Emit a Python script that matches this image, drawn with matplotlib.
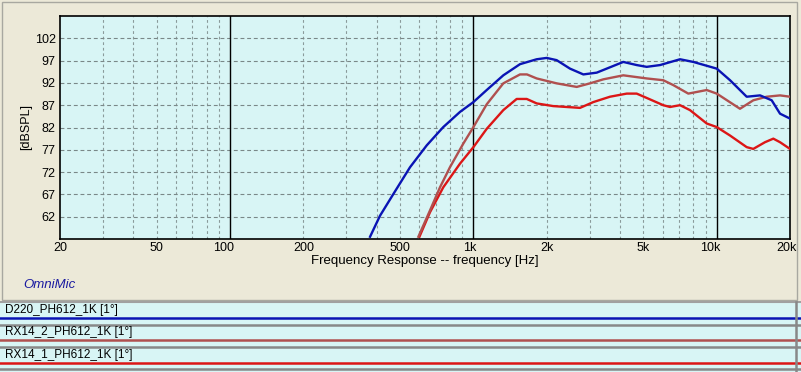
import matplotlib
matplotlib.use("Agg")
import matplotlib.pyplot as plt
import matplotlib.transforms as mtrans
from matplotlib.patches import Rectangle
from matplotlib.ticker import FixedLocator, NullFormatter

# ---------------- data ----------------
series_names = ["D220_PH612_1K [1°]", "RX14_2_PH612_1K [1°]", "RX14_1_PH612_1K [1°]"]
series_colors = ["#0A14B4", "#B0504F", "#DC1616"]

d220_freq = [376, 413, 469, 549, 643, 752, 881, 1000, 1134, 1327, 1554, 1820, 2000, 2198,
             2494, 2830, 3212, 3641, 4130, 4688, 5154, 5848, 7064, 8012, 10000,
             11340, 13274, 15070, 16820, 18200, 20000]
d220_db = [57.5, 62.2, 67.1, 73.1, 78.0, 82.1, 85.5, 87.7, 90.4, 93.7, 96.2, 97.3, 97.6, 97.1,
           95.2, 93.9, 94.3, 95.5, 96.7, 96.0, 95.6, 96.0, 97.3, 96.7, 95.2,
           92.6, 88.9, 89.2, 88.1, 85.1, 84.0]

rx2_freq = [594, 663, 729, 801, 909, 1000, 1134, 1327, 1554, 1660, 1820, 2198, 2658, 3014,
            3420, 4130, 5154, 6028, 6632, 7640, 9092, 10000, 12460, 14130, 16040, 18200, 20000]
rx2_db = [57.5, 63.4, 68.6, 73.1, 78.4, 82.1, 87.2, 91.9, 93.9, 93.9, 93.0, 91.9, 91.1, 91.9,
          92.8, 93.7, 93.0, 92.6, 91.5, 89.6, 90.4, 89.6, 86.2, 88.1, 88.9, 89.2, 88.9]

rx1_freq = [600, 663, 752, 881, 1000, 1134, 1327, 1506, 1656, 1820, 2128, 2742, 3110,
            3641, 4266, 4688, 5320, 6028, 6426, 7064, 7761, 9092, 10000, 11340, 13274,
            14130, 15780, 17080, 18200, 20000]
rx1_db = [57.5, 63.0, 68.6, 73.9, 77.6, 81.7, 85.9, 88.4, 88.4, 87.4, 86.8, 86.4, 87.7,
          88.9, 89.6, 89.6, 88.3, 87.0, 86.6, 87.0, 85.9, 82.9, 82.1, 80.2, 77.6,
          77.2, 78.7, 79.5, 78.7, 77.2]

x_ticks = [20, 50, 100, 200, 500, 1000, 2000, 5000, 10000, 20000]
x_tick_labels = ["20", "50", "100", "200", "500", "1k", "2k", "5k", "10k", "20k"]
y_ticks = [62, 67, 72, 77, 82, 87, 92, 97, 102]
decade_lines = [100, 1000, 10000]
minor_grid = [30, 40, 50, 60, 70, 80, 90, 200, 300, 400, 500, 600, 700, 800, 900,
              2000, 3000, 4000, 5000, 6000, 7000, 8000, 9000]

# ---------------- figure ----------------
W, H = 801, 372
fig = plt.figure(figsize=(W / 100, H / 100), dpi=100)
fig.patch.set_facecolor("#ECE9D8")
plt.rcParams["font.family"] = ["Liberation Sans", "DejaVu Sans"]

def fx(px):
    return px / W

def fy(py):
    return 1 - py / H

# upper panel border
fig.patches.append(Rectangle((fx(2), fy(300)), fx(797) - fx(2), fy(2) - fy(300),
                             transform=fig.transFigure, fill=False,
                             edgecolor="#A8A8A0", lw=1))

L, R, T, B = 60, 790, 16, 239
ax = fig.add_axes([fx(L), fy(B), fx(R) - fx(L), fy(T) - fy(B)])
ax.set_facecolor("#D8F5F5")
ax.set_xscale("log")
ax.set_xlim(20, 20000)
ax.set_ylim(57, 107)

for f in minor_grid:
    ax.axvline(f, color="#8A9A9A", lw=0.8, ls=(0, (2.5, 2.5)), zorder=1)
for y in y_ticks:
    ax.axhline(y, color="#7A8888", lw=0.8, ls=(0, (3.5, 2.5)), zorder=1)
for f in decade_lines:
    ax.axvline(f, color="black", lw=1.0, zorder=2)

ax.plot(d220_freq, d220_db, color=series_colors[0], lw=1.7, zorder=5)
ax.plot(rx2_freq, rx2_db, color=series_colors[1], lw=1.7, zorder=4)
ax.plot(rx1_freq, rx1_db, color=series_colors[2], lw=1.7, zorder=3)

ax.xaxis.set_major_locator(FixedLocator(x_ticks))
ax.xaxis.set_minor_locator(FixedLocator([]))
ax.xaxis.set_minor_formatter(NullFormatter())
ax.set_xticklabels(x_tick_labels)
ax.set_yticks(y_ticks)
ax.set_yticklabels([str(v) for v in y_ticks])
ax.tick_params(axis="both", length=0, labelsize=9, colors="black")
ax.tick_params(axis="x", pad=2)
ax.tick_params(axis="y", pad=3)
for s in ax.spines.values():
    s.set_color("black")
    s.set_linewidth(1.2)

# small horizontal nudges of some tick labels, as in the reference
label_shift_px = {"100": -7, "1k": -4, "10k": -6, "20k": -3}
for lbl in ax.get_xticklabels():
    dx = label_shift_px.get(lbl.get_text(), 0)
    if dx:
        lbl.set_transform(lbl.get_transform() +
                          mtrans.ScaledTranslation(dx / 100, 0, fig.dpi_scale_trans))

ax.set_xlabel("Frequency Response -- frequency [Hz]", fontsize=9.5, labelpad=1)
ax.set_ylabel("[dBSPL]", fontsize=9, labelpad=2)

fig.text(fx(23), fy(285), "OmniMic", color="#1A1AA0", fontsize=9.5,
         style="italic", va="center", ha="left")

# ---------------- legend strip ----------------
lax = fig.add_axes([0, 0, 1, fy(301)])
lax.set_xlim(0, W)
lax.set_ylim(H, 301)
lax.axis("off")
lax.add_patch(Rectangle((0, 301), W, H - 301, facecolor="#D8F5F5", edgecolor="none"))
lax.axhline(301.5, color="#A0A0A0", lw=1.5)
row_text_y = [310, 332.5, 355]
row_line_y = [318, 340, 362.5]
sep_y = [325, 347, 369]
for name, col, ty, ly, sy in zip(series_names, series_colors, row_text_y, row_line_y, sep_y):
    lax.text(5, ty, name, fontsize=8.5, va="center", ha="left", color="black")
    lax.plot([0, W], [ly, ly], color=col, lw=1.8)
    lax.plot([0, W], [sy, sy], color="#888888", lw=1.8)
lax.plot([796, 796], [301, H], color="#888888", lw=1.8)

fig.savefig("out.png", dpi=100, facecolor=fig.get_facecolor())
